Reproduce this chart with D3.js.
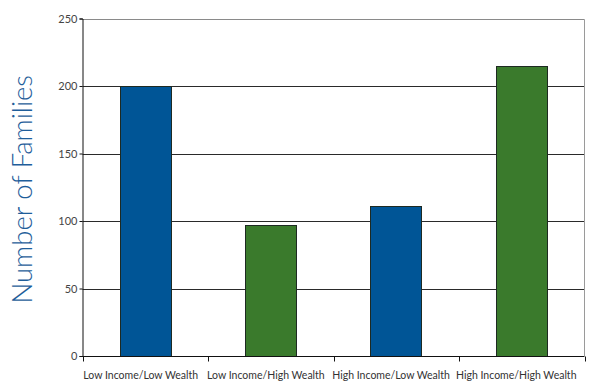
<!DOCTYPE html>
<html>
<head>
<meta charset="utf-8">
<script src="https://cdn.jsdelivr.net/npm/d3@7"></script>
<style>
  html, body { margin: 0; padding: 0; background: #fff; }
  svg { display: block; }
  text { font-family: Lato, "Open Sans", sans-serif; }
</style>
</head>
<body>
<div id="chart"></div>
<script>
// Families grouped by income and wealth
const categories = ["Low Income/Low Wealth", "Low Income/High Wealth", "High Income/Low Wealth", "High Income/High Wealth"];
const families = [200, 97, 111, 215];
const barColors = ["#005596", "#3a7a2c", "#005596", "#3a7a2c"];
const yTicks = [0, 50, 100, 150, 200, 250];

const width = 608, height = 383;
const margin = { top: 18.5, right: 23.5, bottom: 27, left: 82.5 };

const svg = d3.select("#chart").append("svg")
  .attr("width", width).attr("height", height);

const x = d3.scaleBand()
  .domain(categories)
  .range([margin.left, width - margin.right])
  .paddingInner(0.59)
  .paddingOuter(0.3);

const y = d3.scaleLinear()
  .domain([0, 250])
  .range([height - margin.bottom, margin.top]);

// Horizontal gridlines
svg.append("g")
  .selectAll("line")
  .data(yTicks.filter(d => d > 0))
  .join("line")
  .attr("x1", margin.left)
  .attr("x2", width - margin.right)
  .attr("y1", d => Math.round(y(d)) + 0.5)
  .attr("y2", d => Math.round(y(d)) + 0.5)
  .attr("stroke", d => d === 250 ? "#8a8a8a" : "#2a2a2a")
  .attr("stroke-width", 1);

// Right border of the plot area
svg.append("line")
  .attr("x1", width - margin.right).attr("x2", width - margin.right)
  .attr("y1", Math.round(y(250)) + 0.5).attr("y2", y(0))
  .attr("stroke", "#9a9a9a");

// Bars
svg.append("g")
  .selectAll("rect")
  .data(categories)
  .join("rect")
  .attr("x", d => Math.round(x(d)) + 0.5)
  .attr("width", Math.round(x.bandwidth()))
  .attr("y", (d, i) => Math.round(y(families[i])) + 0.5)
  .attr("height", (d, i) => Math.round(y(0)) - Math.round(y(families[i])))
  .attr("fill", (d, i) => barColors[i])
  .attr("stroke", "#1e2a22")
  .attr("stroke-width", 1);

// Y axis
const yAxis = svg.append("g")
  .attr("transform", `translate(${margin.left},0)`)
  .call(d3.axisLeft(y).tickValues(yTicks).tickSize(3).tickPadding(2).tickFormat(d3.format("d")));
yAxis.select(".domain").attr("stroke", "#111");
yAxis.selectAll(".tick line").attr("stroke", "#111");
yAxis.selectAll(".tick text")
  .attr("font-size", 11)
  .attr("fill", "#444")
  .style("font-family", "Lato, sans-serif");

// X axis with ticks at band boundaries
const xAxisG = svg.append("g")
  .attr("transform", `translate(0,${Math.round(y(0)) + 0.5})`);
xAxisG.append("line")
  .attr("x1", margin.left).attr("x2", width - margin.right)
  .attr("stroke", "#111");
const bounds = d3.range(categories.length + 1).map(i => margin.left + i * (width - margin.left - margin.right) / categories.length);
xAxisG.selectAll("line.tk")
  .data(bounds)
  .join("line")
  .attr("class", "tk")
  .attr("x1", d => Math.round(d) + 0.5).attr("x2", d => Math.round(d) + 0.5)
  .attr("y1", 0).attr("y2", 5)
  .attr("stroke", "#111");
xAxisG.selectAll("text")
  .data(categories)
  .join("text")
  .attr("x", d => x(d) + x.bandwidth() / 2 - 5)
  .attr("y", 22)
  .attr("text-anchor", "middle")
  .attr("font-size", 10.5)
  .attr("fill", "#333")
  .text(d => d);

// Y axis title
svg.append("text")
  .attr("transform", `translate(32,${(margin.top + height - margin.bottom) / 2 + 2}) rotate(-90)`)
  .attr("text-anchor", "middle")
  .attr("font-size", 27.5)
  .attr("font-weight", 300)
  .attr("fill", "#1f5e9a")
  .text("Number of Families");
</script>
</body>
</html>
